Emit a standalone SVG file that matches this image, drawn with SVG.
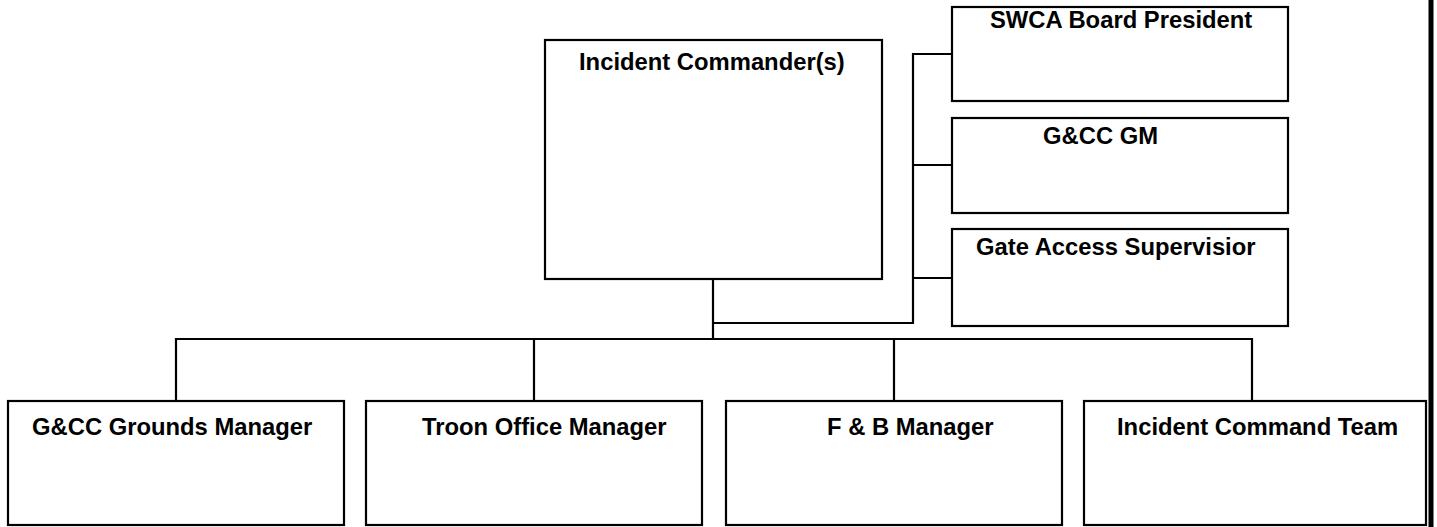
<svg xmlns="http://www.w3.org/2000/svg" width="1437" height="527" viewBox="0 0 1437 527">
  <style>
    .box { fill: #ffffff; stroke: #000000; stroke-width: 2.2; }
    .lbl { font-family: "Liberation Sans", Arial, sans-serif; font-weight: bold; font-size: 23.8px; fill: #000000; }
    .conn { fill: none; stroke: #000000; stroke-width: 2.2; }
  </style>
  <rect x="0" y="0" width="1437" height="527" fill="#ffffff"/>
  <g id="connectors">
    <polyline class="conn" points="713,279 713,339"/>
    <polyline class="conn" points="176,401 176,339 1252,339 1252,401"/>
    <line class="conn" x1="534" y1="339" x2="534" y2="401"/>
    <line class="conn" x1="894" y1="339" x2="894" y2="401"/>
    <polyline class="conn" points="713,323 913,323 913,54 952,54"/>
    <line class="conn" x1="913" y1="165" x2="952" y2="165"/>
    <line class="conn" x1="913" y1="278" x2="952" y2="278"/>
  </g>
  <g id="ic">
    <rect class="box" x="545" y="40" width="337" height="239"/>
    <text class="lbl" x="579" y="70">Incident Commander(s)</text>
  </g>
  <g id="swca">
    <rect class="box" x="952" y="7" width="336" height="94"/>
    <text class="lbl" x="990" y="28">SWCA Board President</text>
  </g>
  <g id="gcc-gm">
    <rect class="box" x="952" y="118" width="336" height="95"/>
    <text class="lbl" x="1043" y="144">G&amp;CC GM</text>
  </g>
  <g id="gate">
    <rect class="box" x="952" y="229" width="336" height="97"/>
    <text class="lbl" x="976" y="255">Gate Access Supervisior</text>
  </g>
  <g id="grounds">
    <rect class="box" x="8" y="401" width="336" height="124"/>
    <text class="lbl" x="32" y="435">G&amp;CC Grounds Manager</text>
  </g>
  <g id="troon">
    <rect class="box" x="366" y="401" width="336" height="124"/>
    <text class="lbl" x="422" y="435">Troon Office Manager</text>
  </g>
  <g id="fb">
    <rect class="box" x="726" y="401" width="336" height="124"/>
    <text class="lbl" x="827" y="435">F &amp; B Manager</text>
  </g>
  <g id="ict">
    <rect class="box" x="1084" y="401" width="342" height="124"/>
    <text class="lbl" x="1117" y="435">Incident Command Team</text>
  </g>
  <line x1="1431" y1="0" x2="1431" y2="527" stroke="#000000" stroke-width="5"/>
</svg>
